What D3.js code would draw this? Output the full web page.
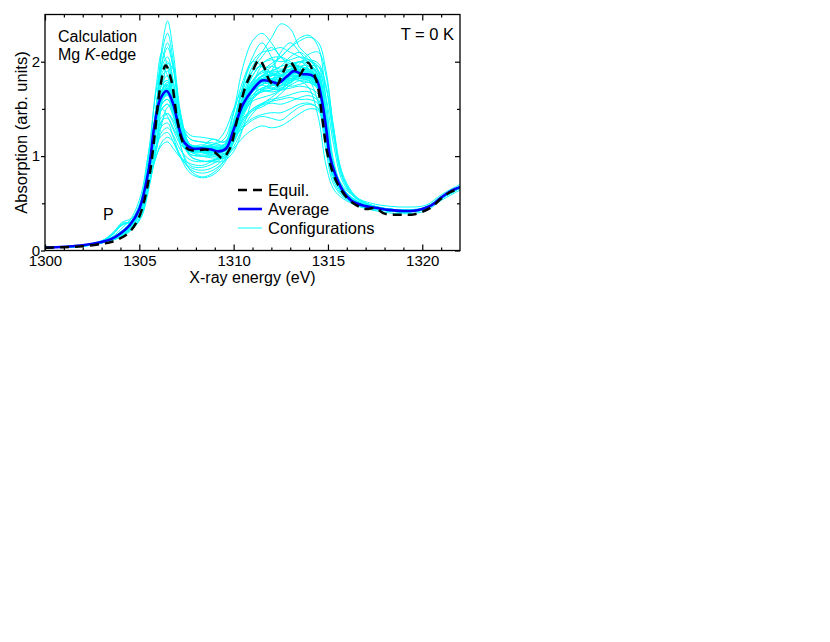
<!DOCTYPE html>
<html>
<head>
<meta charset="utf-8">
<script src="https://cdn.jsdelivr.net/npm/d3@7"></script>
<style>
  html, body { margin: 0; padding: 0; background: #fff; }
  svg { display: block; font-family: "Liberation Sans", Arial, Helvetica, sans-serif; }
</style>
</head>
<body>
<svg id="chart" width="830" height="642"></svg>
<script>
// ---------------- DATA ----------------
const xTicksMajor = [1300, 1305, 1310, 1315, 1320];
const xTicksMinor = [1301,1302,1303,1304,1306,1307,1308,1309,1311,1312,1313,1314,1316,1317,1318,1319,1321];
const yTicksMajor = [0, 1, 2];
const yTicksMinor = [0.5, 1.5];

const equilX = [1300,1301,1302,1303,1303.5,1304,1304.5,1305,1305.5,1305.8,1306.1,1306.4,1306.7,1307,1307.3,1307.6,1308,1308.5,1309,1309.4,1309.8,1310.2,1310.6,1311,1311.35,1311.6,1311.9,1312.25,1312.6,1312.95,1313.2,1313.45,1313.7,1313.95,1314.2,1314.45,1314.7,1314.95,1315.2,1315.5,1316,1316.5,1317,1317.5,1318,1318.5,1319,1319.5,1320,1320.5,1321,1321.5,1322];
const equilY = [0.03,0.035,0.045,0.07,0.09,0.13,0.2,0.36,0.75,1.2,1.72,1.96,1.8,1.4,1.15,1.07,1.06,1.07,1.04,0.98,1.08,1.4,1.72,1.9,2.02,1.95,1.8,1.74,1.88,2.0,1.95,1.85,1.92,1.99,1.9,1.75,1.4,1.05,0.86,0.71,0.56,0.48,0.44,0.45,0.39,0.38,0.38,0.38,0.41,0.46,0.55,0.62,0.66];

const averageX = [1300,1301,1302,1303,1303.5,1304,1304.5,1305,1305.5,1305.8,1306.1,1306.45,1306.8,1307.1,1307.4,1307.8,1308.3,1308.8,1309.2,1309.6,1310,1310.5,1311,1311.5,1312,1312.35,1312.8,1313.2,1313.6,1314.1,1314.4,1314.65,1314.9,1315.1,1315.4,1315.8,1316.3,1317,1317.6,1318.2,1318.8,1319.5,1320,1320.5,1321,1321.5,1322];
const averageY = [0.03,0.04,0.055,0.09,0.12,0.18,0.27,0.44,0.86,1.32,1.6,1.69,1.55,1.3,1.14,1.08,1.08,1.07,1.05,1.08,1.28,1.55,1.7,1.8,1.79,1.77,1.84,1.9,1.87,1.86,1.81,1.62,1.3,1.0,0.8,0.63,0.52,0.47,0.45,0.43,0.42,0.42,0.44,0.48,0.56,0.63,0.67];

const configX = [1300,1302,1303,1303.6,1304.1,1304.6,1305.1,1305.5,1305.9,1306.2,1306.5,1306.8,1307.2,1307.7,1308.3,1308.9,1309.5,1310,1310.5,1311,1311.5,1312,1312.5,1313,1313.5,1314,1314.5,1314.9,1315.3,1315.8,1316.5,1317.3,1318.2,1319.2,1320.2,1321,1322];
const configurations = [
  [0.03,0.05,0.08,0.12,0.17,0.25,0.42,0.85,1.5,2.15,2.43,2.1,1.45,1.12,1.1,1.08,1.05,1.2,1.5,1.75,1.85,1.82,1.78,1.85,1.9,1.88,1.8,1.35,0.85,0.64,0.52,0.46,0.42,0.41,0.44,0.55,0.66],
  [0.03,0.05,0.09,0.13,0.2,0.3,0.48,0.9,1.4,1.65,1.7,1.55,1.25,1.05,1.02,1.05,1.1,1.35,1.7,1.95,2.1,2.25,2.4,2.35,2.15,2.05,1.9,1.4,0.85,0.62,0.51,0.46,0.43,0.42,0.45,0.57,0.68],
  [0.03,0.05,0.09,0.13,0.19,0.28,0.44,0.8,1.3,1.55,1.6,1.45,1.2,1.1,1.12,1.1,1.08,1.25,1.5,1.7,1.85,1.95,2.05,2.15,2.22,2.26,2.2,1.9,1.3,0.75,0.55,0.48,0.44,0.43,0.45,0.56,0.67],
  [0.03,0.05,0.1,0.17,0.29,0.3,0.4,0.7,1.0,1.12,1.15,1.08,0.98,0.92,0.9,0.95,1.02,1.25,1.5,1.65,1.72,1.75,1.78,1.82,1.8,1.78,1.7,1.25,0.8,0.62,0.52,0.47,0.44,0.43,0.46,0.57,0.68],
  [0.03,0.05,0.09,0.13,0.18,0.27,0.45,0.9,1.5,1.85,1.9,1.6,1.1,0.85,0.78,0.82,0.95,1.2,1.48,1.62,1.7,1.72,1.75,1.8,1.85,1.83,1.75,1.28,0.8,0.62,0.51,0.45,0.42,0.41,0.44,0.55,0.66],
  [0.03,0.05,0.09,0.14,0.2,0.29,0.46,0.88,1.38,1.62,1.66,1.5,1.22,1.06,1.05,1.04,1.03,1.18,1.3,1.38,1.42,1.4,1.38,1.45,1.52,1.55,1.5,1.15,0.78,0.6,0.5,0.45,0.42,0.41,0.44,0.55,0.66],
  [0.03,0.045,0.08,0.11,0.15,0.22,0.35,0.65,1.1,1.6,1.98,1.92,1.4,1.1,1.08,1.07,1.08,1.3,1.6,1.78,1.9,1.95,1.92,1.95,2.0,1.98,1.85,1.4,0.88,0.64,0.52,0.46,0.43,0.42,0.45,0.56,0.67],
  [0.035,0.055,0.1,0.15,0.24,0.35,0.6,1.05,1.42,1.5,1.42,1.28,1.12,1.04,1.05,1.07,1.1,1.3,1.55,1.7,1.78,1.76,1.74,1.8,1.84,1.82,1.72,1.22,0.78,0.6,0.5,0.45,0.43,0.42,0.45,0.56,0.67],
  [0.03,0.05,0.09,0.13,0.19,0.28,0.45,0.85,1.35,1.7,1.78,1.62,1.35,1.22,1.2,1.18,1.15,1.32,1.6,1.8,1.9,1.88,1.85,1.92,1.95,1.9,1.8,1.32,0.84,0.63,0.52,0.46,0.43,0.42,0.45,0.56,0.67],
  [0.03,0.05,0.085,0.12,0.17,0.26,0.43,0.85,1.45,2.0,2.2,1.95,1.4,1.1,1.05,1.04,1.06,1.25,1.55,1.75,1.82,1.78,1.75,1.85,1.95,1.95,1.85,1.38,0.86,0.63,0.52,0.46,0.43,0.42,0.44,0.55,0.66],
  [0.03,0.05,0.1,0.18,0.27,0.32,0.45,0.8,1.2,1.38,1.4,1.3,1.15,1.02,1.0,1.02,1.05,1.22,1.45,1.6,1.7,1.78,1.85,1.9,1.88,1.85,1.76,1.3,0.82,0.62,0.51,0.46,0.43,0.42,0.45,0.56,0.67],
  [0.03,0.05,0.09,0.13,0.19,0.28,0.44,0.84,1.32,1.58,1.64,1.5,1.24,1.08,1.06,1.05,1.08,1.35,1.75,2.05,2.2,2.05,1.85,1.8,1.85,1.9,1.8,1.32,0.84,0.63,0.52,0.46,0.43,0.42,0.45,0.56,0.67],
  [0.03,0.05,0.09,0.13,0.19,0.28,0.44,0.84,1.35,1.6,1.65,1.5,1.23,1.05,1.0,0.98,0.98,1.1,1.3,1.45,1.55,1.62,1.7,1.8,1.92,2.0,1.95,1.5,0.92,0.66,0.53,0.47,0.44,0.43,0.45,0.56,0.67],
  [0.03,0.05,0.09,0.14,0.21,0.3,0.47,0.82,1.12,1.22,1.25,1.15,0.98,0.88,0.85,0.88,0.98,1.22,1.5,1.68,1.75,1.72,1.7,1.75,1.8,1.8,1.72,1.25,0.8,0.61,0.51,0.46,0.43,0.42,0.45,0.56,0.67],
  [0.03,0.05,0.09,0.13,0.18,0.27,0.44,0.86,1.45,1.78,1.85,1.65,1.28,1.1,1.08,1.06,1.06,1.25,1.55,1.75,1.85,1.9,1.95,2.05,2.1,2.02,1.88,1.42,0.88,0.64,0.52,0.46,0.43,0.42,0.45,0.56,0.67],
  [0.03,0.05,0.09,0.13,0.19,0.28,0.45,0.86,1.36,1.62,1.68,1.52,1.25,1.08,1.07,1.06,1.07,1.28,1.55,1.7,1.78,1.8,1.82,1.85,1.84,1.8,1.55,1.05,0.7,0.57,0.49,0.45,0.42,0.41,0.44,0.55,0.66],
  [0.03,0.05,0.09,0.13,0.19,0.28,0.45,0.86,1.36,1.62,1.68,1.52,1.25,1.08,1.07,1.06,1.07,1.28,1.55,1.7,1.8,1.82,1.8,1.85,1.9,1.92,1.9,1.62,1.12,0.72,0.55,0.48,0.44,0.43,0.46,0.57,0.68],
  [0.03,0.05,0.09,0.13,0.18,0.27,0.44,0.88,1.55,1.95,2.05,1.8,1.3,1.0,0.95,0.95,1.0,1.2,1.48,1.68,1.78,1.8,1.78,1.82,1.86,1.86,1.78,1.3,0.82,0.62,0.51,0.46,0.43,0.42,0.45,0.56,0.67],
  [0.03,0.05,0.09,0.13,0.19,0.28,0.45,0.86,1.38,1.65,1.72,1.56,1.28,1.12,1.1,1.08,1.06,1.2,1.4,1.5,1.55,1.58,1.6,1.62,1.6,1.6,1.55,1.18,0.78,0.6,0.5,0.45,0.42,0.41,0.44,0.55,0.66],
  [0.03,0.05,0.1,0.19,0.3,0.34,0.5,0.9,1.42,1.7,1.75,1.58,1.28,1.1,1.08,1.06,1.06,1.25,1.52,1.7,1.8,1.85,1.88,1.9,1.88,1.82,1.72,1.28,0.82,0.62,0.51,0.46,0.43,0.42,0.45,0.56,0.67],
  [0.03,0.05,0.09,0.13,0.19,0.28,0.44,0.84,1.3,1.5,1.55,1.42,1.18,1.05,1.1,1.18,1.15,1.3,1.55,1.72,1.8,1.82,1.86,1.9,1.88,1.85,1.76,1.3,0.83,0.63,0.52,0.46,0.43,0.42,0.45,0.56,0.67],
  [0.03,0.05,0.085,0.12,0.17,0.25,0.42,0.82,1.5,2.1,2.3,2.0,1.42,1.12,1.08,1.05,1.05,1.22,1.5,1.7,1.8,1.85,1.9,1.95,1.92,1.88,1.8,1.35,0.85,0.63,0.52,0.46,0.43,0.42,0.45,0.56,0.67],
  [0.03,0.05,0.09,0.13,0.19,0.28,0.45,0.86,1.36,1.6,1.66,1.52,1.25,1.1,1.08,1.08,1.12,1.45,1.8,2.0,1.95,1.78,1.72,1.78,1.85,1.88,1.8,1.34,0.85,0.63,0.52,0.46,0.43,0.42,0.45,0.56,0.67],
  [0.03,0.05,0.09,0.14,0.2,0.29,0.46,0.84,1.18,1.32,1.35,1.2,0.98,0.82,0.77,0.8,0.92,1.15,1.42,1.6,1.68,1.7,1.72,1.78,1.82,1.8,1.7,1.24,0.79,0.61,0.51,0.46,0.43,0.42,0.45,0.56,0.67],
  [0.03,0.05,0.09,0.13,0.19,0.28,0.45,0.86,1.38,1.65,1.72,1.55,1.26,1.1,1.1,1.1,1.1,1.3,1.58,1.78,1.9,1.98,2.05,2.15,2.25,2.28,2.15,1.6,0.95,0.66,0.53,0.47,0.44,0.43,0.45,0.56,0.67],
  [0.035,0.055,0.1,0.14,0.21,0.32,0.55,1.05,1.7,1.95,1.85,1.55,1.2,1.06,1.05,1.05,1.06,1.26,1.52,1.68,1.76,1.78,1.8,1.84,1.86,1.84,1.75,1.28,0.8,0.62,0.51,0.46,0.43,0.42,0.45,0.56,0.67],
  [0.03,0.05,0.09,0.13,0.19,0.28,0.45,0.86,1.38,1.66,1.72,1.56,1.28,1.1,1.08,1.07,1.07,1.22,1.45,1.58,1.62,1.65,1.7,1.78,1.86,1.9,1.84,1.4,0.88,0.64,0.52,0.46,0.43,0.42,0.45,0.56,0.67],
  [0.03,0.05,0.09,0.13,0.19,0.28,0.45,0.85,1.32,1.56,1.6,1.48,1.22,1.08,1.07,1.07,1.09,1.32,1.65,1.9,2.05,2.15,2.05,1.95,1.9,1.88,1.78,1.3,0.83,0.63,0.52,0.46,0.43,0.42,0.45,0.56,0.67],
  [0.03,0.05,0.09,0.13,0.19,0.28,0.45,0.86,1.4,1.7,1.76,1.58,1.26,1.08,1.04,1.0,0.98,1.08,1.2,1.28,1.32,1.3,1.32,1.38,1.45,1.5,1.48,1.15,0.78,0.6,0.5,0.45,0.42,0.41,0.44,0.55,0.66],
  [0.03,0.045,0.08,0.11,0.16,0.23,0.36,0.68,1.1,1.38,1.45,1.38,1.2,1.06,1.04,1.04,1.06,1.28,1.55,1.72,1.8,1.82,1.84,1.88,1.9,1.86,1.78,1.32,0.84,0.63,0.52,0.46,0.43,0.42,0.45,0.56,0.67],
  [0.03,0.05,0.09,0.13,0.19,0.28,0.45,0.87,1.45,1.75,1.8,1.62,1.32,1.18,1.15,1.14,1.12,1.28,1.55,1.72,1.82,1.86,1.9,1.96,2.0,1.95,1.84,1.36,0.86,0.64,0.52,0.46,0.43,0.42,0.45,0.56,0.67],
  [0.03,0.05,0.09,0.13,0.19,0.28,0.45,0.86,1.38,1.64,1.7,1.54,1.26,1.1,1.08,1.06,1.05,1.26,1.58,1.75,1.95,1.8,1.7,1.88,2.0,1.92,1.8,1.34,0.85,0.63,0.52,0.46,0.43,0.42,0.45,0.56,0.67],
  [0.03,0.05,0.09,0.13,0.19,0.28,0.44,0.82,1.3,1.6,1.75,1.62,1.3,1.12,1.1,1.08,1.06,1.22,1.5,1.72,1.85,1.9,1.95,1.98,2.0,2.02,1.98,1.75,1.25,0.78,0.56,0.48,0.44,0.43,0.45,0.56,0.67],
  [0.03,0.05,0.09,0.13,0.19,0.28,0.45,0.86,1.38,1.62,1.68,1.52,1.24,1.1,1.1,1.12,1.25,1.5,1.7,1.72,1.7,1.68,1.7,1.72,1.74,1.72,1.65,1.2,0.78,0.6,0.5,0.45,0.42,0.41,0.44,0.55,0.66],
  [0.03,0.05,0.09,0.13,0.19,0.28,0.45,0.86,1.38,1.66,1.72,1.55,1.2,1.0,0.95,0.94,0.95,1.05,1.3,1.6,1.8,1.88,1.9,1.92,1.95,1.9,1.82,1.4,0.88,0.64,0.52,0.46,0.43,0.42,0.45,0.56,0.67],
  [0.035,0.055,0.1,0.14,0.21,0.31,0.52,1.0,1.75,2.1,1.95,1.6,1.22,1.08,1.06,1.05,1.06,1.25,1.52,1.7,1.8,1.82,1.8,1.86,1.9,1.88,1.8,1.3,0.82,0.62,0.51,0.46,0.43,0.42,0.45,0.56,0.67],
  [0.03,0.045,0.08,0.11,0.16,0.23,0.37,0.68,1.05,1.35,1.52,1.55,1.35,1.18,1.15,1.12,1.12,1.3,1.58,1.75,1.82,1.85,1.86,1.9,1.9,1.88,1.8,1.4,0.88,0.64,0.52,0.46,0.43,0.42,0.45,0.56,0.67],
  [0.03,0.05,0.09,0.13,0.19,0.28,0.45,0.86,1.4,1.68,1.74,1.56,1.26,1.08,1.06,1.06,1.08,1.35,1.75,2.0,2.1,2.12,2.15,2.1,2.05,1.98,1.7,1.15,0.74,0.58,0.5,0.45,0.42,0.41,0.44,0.55,0.66],
  [0.03,0.05,0.1,0.17,0.27,0.3,0.43,0.76,1.1,1.26,1.3,1.22,1.06,0.96,0.94,0.96,1.0,1.2,1.46,1.62,1.7,1.74,1.78,1.8,1.82,1.8,1.72,1.28,0.82,0.62,0.51,0.46,0.43,0.42,0.45,0.56,0.67],
  [0.03,0.05,0.085,0.12,0.18,0.27,0.44,0.87,1.52,1.92,2.0,1.78,1.32,1.08,1.04,1.02,1.02,1.16,1.38,1.5,1.56,1.6,1.62,1.65,1.68,1.68,1.6,1.2,0.8,0.61,0.5,0.45,0.42,0.41,0.44,0.55,0.66],
  [0.03,0.05,0.09,0.13,0.19,0.28,0.45,0.86,1.36,1.62,1.68,1.52,1.25,1.1,1.08,1.07,1.08,1.28,1.55,1.72,1.8,1.9,2.1,2.2,2.1,1.98,1.85,1.38,0.86,0.63,0.52,0.46,0.43,0.42,0.45,0.56,0.67],
  [0.03,0.05,0.09,0.13,0.19,0.28,0.45,0.87,1.45,1.76,1.8,1.55,1.1,0.9,0.88,0.92,1.0,1.22,1.5,1.68,1.76,1.78,1.8,1.84,1.86,1.84,1.76,1.3,0.83,0.63,0.52,0.46,0.43,0.42,0.45,0.56,0.67],
  [0.03,0.05,0.09,0.13,0.19,0.28,0.45,0.86,1.38,1.64,1.7,1.54,1.26,1.1,1.08,1.07,1.06,1.2,1.38,1.48,1.52,1.58,1.66,1.76,1.88,1.95,1.95,1.72,1.2,0.76,0.56,0.48,0.44,0.43,0.45,0.56,0.67],
  [0.03,0.05,0.09,0.13,0.19,0.28,0.45,0.85,1.34,1.56,1.6,1.48,1.24,1.1,1.09,1.09,1.12,1.38,1.72,1.9,1.95,1.88,1.78,1.74,1.76,1.78,1.7,1.25,0.8,0.61,0.51,0.46,0.43,0.42,0.45,0.56,0.67],
  [0.03,0.05,0.09,0.13,0.19,0.28,0.45,0.86,1.4,1.7,1.78,1.6,1.3,1.12,1.1,1.08,1.08,1.28,1.56,1.74,1.84,1.86,1.86,1.9,1.92,1.9,1.82,1.38,0.9,0.68,0.56,0.5,0.47,0.46,0.48,0.59,0.7],
  [0.03,0.05,0.09,0.13,0.19,0.28,0.45,0.86,1.38,1.64,1.7,1.52,1.24,1.08,1.06,1.05,1.06,1.26,1.54,1.72,1.8,1.82,1.84,1.86,1.88,1.86,1.76,1.28,0.8,0.59,0.48,0.43,0.4,0.39,0.42,0.53,0.64],
  [0.03,0.05,0.085,0.12,0.17,0.26,0.43,0.84,1.45,1.98,2.15,1.92,1.38,1.12,1.08,1.06,1.08,1.3,1.62,1.85,1.98,2.02,2.0,2.02,2.05,2.02,1.9,1.42,0.88,0.64,0.52,0.46,0.43,0.42,0.45,0.56,0.67],
  [0.03,0.05,0.09,0.14,0.2,0.29,0.46,0.84,1.25,1.42,1.45,1.35,1.15,1.02,1.0,1.0,1.02,1.18,1.32,1.4,1.44,1.46,1.46,1.5,1.55,1.56,1.5,1.15,0.78,0.6,0.5,0.45,0.42,0.41,0.44,0.55,0.66],
  [0.03,0.05,0.09,0.13,0.19,0.28,0.45,0.86,1.38,1.64,1.7,1.54,1.26,1.1,1.1,1.12,1.18,1.48,1.95,2.22,2.3,2.2,2.05,1.98,1.95,1.92,1.82,1.35,0.86,0.63,0.52,0.46,0.43,0.42,0.45,0.56,0.67],
  [0.03,0.045,0.08,0.12,0.17,0.24,0.38,0.7,1.0,1.15,1.2,1.15,1.0,0.86,0.82,0.85,0.95,1.18,1.46,1.64,1.72,1.75,1.78,1.82,1.84,1.82,1.74,1.3,0.83,0.63,0.52,0.46,0.43,0.42,0.45,0.56,0.67],
  [0.03,0.05,0.09,0.13,0.19,0.28,0.45,0.86,1.38,1.64,1.7,1.54,1.26,1.1,1.08,1.07,1.07,1.24,1.48,1.62,1.68,1.7,1.75,1.85,1.98,2.08,2.1,1.85,1.3,0.8,0.57,0.48,0.44,0.43,0.45,0.56,0.67],
  [0.03,0.05,0.09,0.13,0.18,0.27,0.44,0.87,1.5,1.88,1.95,1.72,1.3,1.12,1.1,1.1,1.1,1.3,1.58,1.76,1.85,1.86,1.85,1.9,1.94,1.92,1.82,1.36,0.86,0.63,0.52,0.46,0.43,0.42,0.45,0.56,0.67],
  [0.03,0.05,0.1,0.18,0.28,0.31,0.46,0.84,1.32,1.6,1.66,1.52,1.26,1.1,1.06,1.02,1.0,1.14,1.35,1.48,1.54,1.56,1.55,1.58,1.62,1.64,1.58,1.2,0.8,0.61,0.5,0.45,0.42,0.41,0.44,0.55,0.66],
  [0.03,0.05,0.09,0.13,0.19,0.28,0.45,0.86,1.38,1.64,1.7,1.54,1.26,1.1,1.08,1.07,1.08,1.3,1.58,1.74,1.8,1.8,1.82,1.82,1.8,1.72,1.4,0.9,0.65,0.55,0.48,0.44,0.42,0.41,0.44,0.55,0.66],
  [0.03,0.05,0.09,0.13,0.19,0.28,0.45,0.86,1.4,1.7,1.75,1.58,1.28,1.12,1.1,1.09,1.1,1.32,1.62,1.8,1.88,1.9,1.9,1.92,1.92,1.9,1.82,1.36,0.86,0.63,0.52,0.46,0.43,0.42,0.45,0.56,0.67],
  [0.03,0.05,0.09,0.13,0.19,0.28,0.45,0.85,1.3,1.5,1.55,1.44,1.2,1.06,1.05,1.05,1.08,1.3,1.62,1.85,1.98,2.04,2.05,2.0,1.95,1.9,1.8,1.34,0.85,0.63,0.52,0.46,0.43,0.42,0.45,0.56,0.67]
];

const legendLabels = ["Equil.", "Average", "Configurations"];

// ---------------- CHART ----------------
const svg = d3.select("#chart");
const L = 45, R = 460, T = 14.5, B = 250.5;

const x = d3.scaleLinear().domain([1300, 1322]).range([L, R]);
const y = d3.scaleLinear().domain([0, 2.5]).range([B, T]);

svg.append("defs").append("clipPath").attr("id", "clip")
  .append("rect").attr("x", L).attr("y", T).attr("width", R - L).attr("height", B - T);

const line = d3.line().x(d => x(d[0])).y(d => y(d[1])).curve(d3.curveCatmullRom.alpha(0.5));

const plot = svg.append("g").attr("clip-path", "url(#clip)");

configurations.forEach(vals => {
  plot.append("path")
    .attr("d", line(configX.map((xv, i) => [xv, vals[i]])))
    .attr("fill", "none").attr("stroke", "#00ffff").attr("stroke-width", 1);
});

plot.append("path")
  .attr("d", line(averageX.map((xv, i) => [xv, averageY[i]])))
  .attr("fill", "none").attr("stroke", "#0000ff").attr("stroke-width", 2.6);

plot.append("path")
  .attr("d", line(equilX.map((xv, i) => [xv, equilY[i]])))
  .attr("fill", "none").attr("stroke", "#000").attr("stroke-width", 2.5)
  .attr("stroke-dasharray", "9,6");

// axes
const fontSize = 15;
const gB = svg.append("g").attr("transform", `translate(0,${B})`);
gB.call(d3.axisBottom(x).tickValues(xTicksMajor).tickSizeInner(-6).tickSizeOuter(0).tickFormat(d3.format("d")));
gB.append("g").call(d3.axisBottom(x).tickValues(xTicksMinor).tickSizeInner(-3).tickSizeOuter(0).tickFormat(""));
gB.selectAll("text").attr("y", 15).attr("dy", null).attr("font-size", fontSize)
  .attr("fill", "#000").attr("font-family", "Liberation Sans, Arial, sans-serif");

const gT = svg.append("g").attr("transform", `translate(0,${T})`);
gT.call(d3.axisTop(x).tickValues(xTicksMajor).tickSizeInner(-6).tickSizeOuter(0).tickFormat(""));
gT.append("g").call(d3.axisTop(x).tickValues(xTicksMinor).tickSizeInner(-3).tickSizeOuter(0).tickFormat(""));

const gL = svg.append("g").attr("transform", `translate(${L},0)`);
gL.call(d3.axisLeft(y).tickValues(yTicksMajor).tickSizeInner(4).tickPadding(1).tickSizeOuter(0).tickFormat(d3.format("d")));
gL.append("g").call(d3.axisLeft(y).tickValues(yTicksMinor).tickSizeInner(3).tickSizeOuter(0).tickFormat(""));
gL.selectAll("text").attr("font-size", fontSize).attr("fill", "#000")
  .attr("font-family", "Liberation Sans, Arial, sans-serif");

const gR = svg.append("g").attr("transform", `translate(${R},0)`);
gR.call(d3.axisRight(y).tickValues(yTicksMajor).tickSizeInner(-5).tickSizeOuter(0).tickFormat(""));
gR.append("g").call(d3.axisRight(y).tickValues(yTicksMinor).tickSizeInner(-3).tickSizeOuter(0).tickFormat(""));

svg.selectAll(".domain").remove();
svg.selectAll(".tick line").attr("stroke", "#000").attr("stroke-width", 1.2);

svg.append("rect").attr("x", L).attr("y", T).attr("width", R - L).attr("height", B - T)
  .attr("fill", "none").attr("stroke", "#000").attr("stroke-width", 1.3);

// titles
svg.append("text").attr("x", (L + R) / 2).attr("y", 283).attr("text-anchor", "middle")
  .attr("font-size", 16).text("X-ray energy (eV)");
svg.append("text").attr("transform", `translate(27,${(T + B) / 2}) rotate(-90)`)
  .attr("text-anchor", "middle").attr("font-size", 16.5).text("Absorption (arb. units)");

// annotations
svg.append("text").attr("x", 58).attr("y", 42).attr("font-size", 16).text("Calculation");
const mg = svg.append("text").attr("x", 58).attr("y", 60).attr("font-size", 16);
mg.append("tspan").text("Mg ");
mg.append("tspan").attr("font-style", "italic").text("K");
mg.append("tspan").text("-edge");
svg.append("text").attr("x", 454).attr("y", 40).attr("text-anchor", "end").attr("font-size", 16.5).text("T = 0 K");
svg.append("text").attr("x", 103).attr("y", 220).attr("font-size", 16).text("P");

// legend
const legStyles = [
  { stroke: "#000", width: 2.5, dash: "9,6" },
  { stroke: "#0000ff", width: 2.6, dash: null },
  { stroke: "#00ffff", width: 1, dash: null }
];
const legY = [190, 209, 228];
legendLabels.forEach((lab, i) => {
  const s = legStyles[i];
  svg.append("line").attr("x1", 238).attr("x2", 262).attr("y1", legY[i]).attr("y2", legY[i])
    .attr("stroke", s.stroke).attr("stroke-width", s.width)
    .attr("stroke-dasharray", s.dash);
  svg.append("text").attr("x", 268).attr("y", legY[i] + 5.5).attr("font-size", 16.5).text(lab);
});
</script>
</body>
</html>
